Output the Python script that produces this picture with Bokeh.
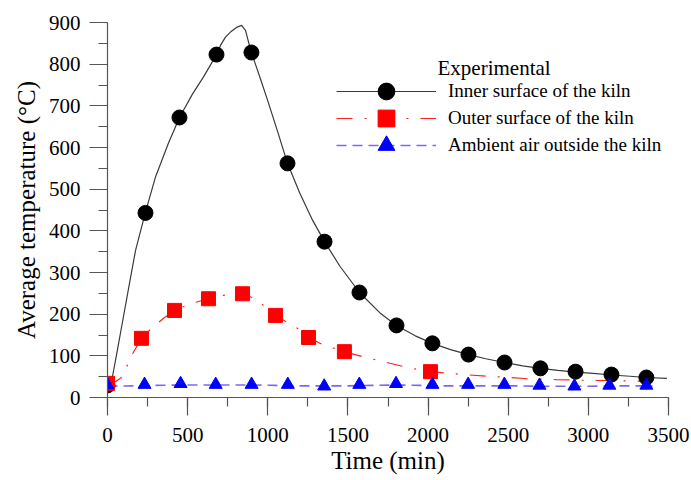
from bokeh.plotting import figure
from bokeh.models import Range1d, SingleIntervalTicker, Legend, LegendItem, Label
from bokeh.embed import file_html
from bokeh.resources import INLINE

# ---------------- data ----------------
inner_line_time = [0, 15, 30, 60, 100, 140, 175, 237, 300, 380, 449, 530, 600, 680, 705, 736,
                   767, 809, 836, 861, 880, 898, 954, 1000, 1060, 1123, 1200, 1280, 1354, 1450,
                   1572, 1700, 1803, 1920, 2027, 2140, 2252, 2360, 2477, 2590, 2701, 2810, 2920,
                   3030, 3144, 3260, 3362, 3490]
inner_line_temp = [25, 35, 48, 110, 195, 280, 353, 445, 530, 610, 672, 728, 770, 823, 845, 865,
                   877, 889, 893, 881, 853, 828, 765, 712, 640, 562, 490, 425, 374, 315,
                   252, 203, 173, 148, 130, 115, 103, 93, 84, 76, 70, 65, 61,
                   58, 54, 51, 48, 46]

inner_time = [0, 237, 449, 680, 898, 1123, 1354, 1572, 1803, 2027, 2252, 2477, 2701, 2920, 3144, 3362]
inner_temp = [29, 443, 672, 823, 828, 562, 374, 252, 173, 130, 103, 84, 70, 62, 55, 48]

outer_line_time = [0, 50, 94, 143, 212, 280, 350, 418, 518, 630, 717, 842, 923, 1048, 1185, 1254,
                   1341, 1478, 1600, 1690, 1871, 2015, 2221, 2420, 2620, 2800, 2995, 3200, 3325, 3400]
outer_line_temp = [32, 38, 50, 96, 142, 168, 190, 209, 225, 237, 245, 249, 237, 197, 166, 144,
                   127, 110, 97, 89, 72, 62, 55, 50, 45, 43, 41, 40, 39, 38]

outer_time = [0, 212, 418, 630, 842, 1048, 1254, 1478, 2015]
outer_temp = [34, 142, 209, 237, 249, 197, 144, 110, 62]

ambient_line_time = [0, 150, 300, 450, 600, 750, 900, 1050, 1200, 1350, 1500, 1650, 1800, 1950,
                     2100, 2250, 2400, 2550, 2700, 2850, 3000, 3150, 3300, 3400]
ambient_line_temp = [27, 28, 29, 30, 30, 30, 30, 29, 28, 28, 28, 29, 30, 29,
                     28, 28, 28, 28, 27, 27, 27, 28, 28, 28]

ambient_time = [0, 231, 456, 675, 899, 1125, 1352, 1571, 1800, 2027, 2250, 2476, 2695, 2913, 3131, 3362]
ambient_temp = [30, 31, 33, 31, 31, 31, 27, 31, 33, 31, 31, 31, 29, 27, 29, 29]

series_labels = ["Inner surface of the kiln", "Outer surface of the kiln", "Ambient air outside the kiln"]
legend_title = "Experimental"
x_title = "Time (min)"
y_title = "Average temperature (\u00b0C)"

# ---------------- figure ----------------
FONT = "Liberation Serif"
AX = "#555555"

p = figure(width=691, height=480, output_backend="svg", toolbar_location=None,
           x_range=Range1d(0, 3500), y_range=Range1d(0, 900),
           min_border_left=107, min_border_right=23, min_border_top=22, min_border_bottom=83)
p.outline_line_color = None
p.grid.visible = False
p.background_fill_color = "white"
p.border_fill_color = "white"

p.xaxis.ticker = SingleIntervalTicker(interval=500, num_minor_ticks=2)
p.yaxis.ticker = SingleIntervalTicker(interval=100, num_minor_ticks=2)
p.xaxis.axis_label = x_title
p.yaxis.axis_label = y_title
for ax in (p.xaxis[0], p.yaxis[0]):
    ax.axis_line_color = AX
    ax.axis_line_width = 1.2
    ax.major_tick_line_color = AX
    ax.minor_tick_line_color = AX
    ax.major_tick_line_width = 1.2
    ax.minor_tick_line_width = 1.2
    ax.major_tick_in = 0
    ax.major_tick_out = 18
    ax.minor_tick_in = 0
    ax.minor_tick_out = 9
    ax.major_label_text_font = FONT
    ax.major_label_text_font_size = "21px"
    ax.major_label_text_color = "black"
    ax.axis_label_text_font = FONT
    ax.axis_label_text_font_size = "25px"
    ax.axis_label_text_font_style = "normal"
    ax.axis_label_text_color = "black"
p.xaxis.major_label_standoff = 12
p.xaxis.axis_label_standoff = 2
p.yaxis.major_label_standoff = 9
p.yaxis.axis_label_standoff = 6

# ---------------- glyphs ----------------
l1 = p.line(inner_line_time, inner_line_temp, line_color="#3a3a3a", line_width=1.2)
l2 = p.line(outer_line_time, outer_line_temp, line_color="#ff2020", line_width=1.2,
            line_dash="16 12 2 12")
l3 = p.line(ambient_line_time, ambient_line_temp, line_color="#7b68ee", line_width=1.6,
            line_dash="10 6")

s1 = p.scatter(inner_time, inner_temp, marker="circle", size=15, fill_color="black", line_color="black")
s2 = p.scatter(outer_time, outer_temp, marker="square", size=14, fill_color="#ff0000", line_color="#ff0000")
s3 = p.scatter(ambient_time, ambient_temp, marker="triangle", size=13, fill_color="#0000ff", line_color="#0000ff")

# one legend per row so that the sample markers can be drawn large while rows stay close
rows = [(series_labels[0], [l1, s1], 285),
        (series_labels[1], [l2, s2], 258),
        (series_labels[2], [l3, s3], 231)]
for label, rends, ypos in rows:
    lg = Legend(items=[LegendItem(label=label, renderers=rends)],
                location=(229, ypos), glyph_width=100, glyph_height=42, spacing=0,
                label_standoff=12, label_height=20, padding=0, margin=0, border_line_color=None,
                background_fill_alpha=0, label_text_font=FONT, label_text_font_size="19px",
                label_text_color="black")
    p.add_layout(lg)

p.add_layout(Label(x=2059, y=790, text=legend_title, text_font=FONT, text_font_size="21px",
                   text_baseline="alphabetic", text_color="black"))

open("out.html", "w").write(file_html(p, INLINE))
